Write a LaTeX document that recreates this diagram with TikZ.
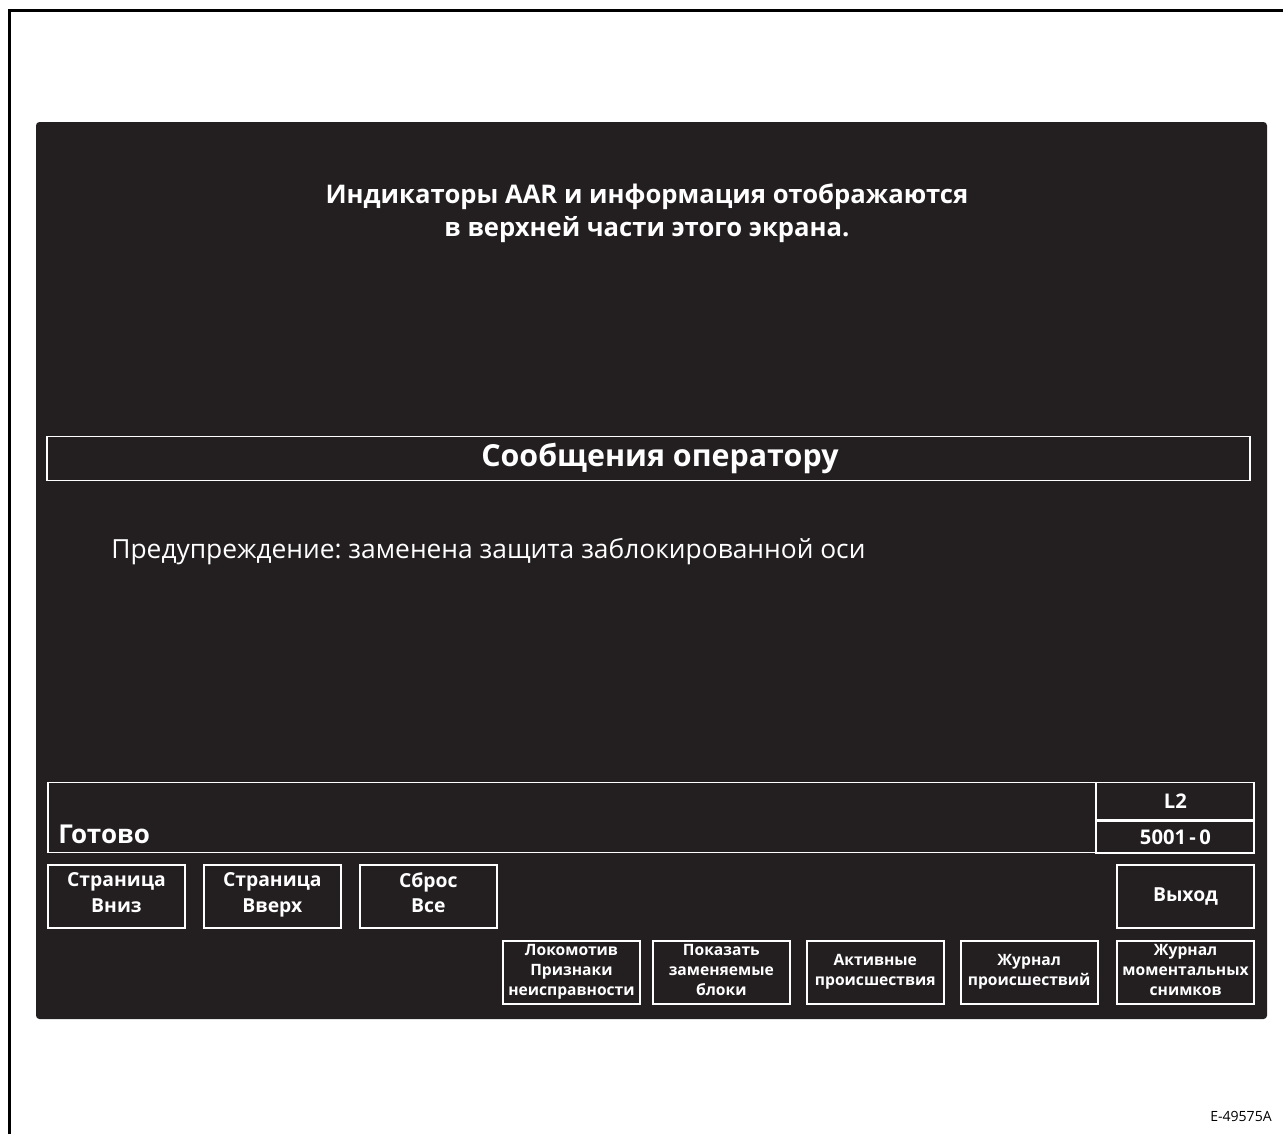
\documentclass[tikz,border=0pt]{standalone}
\usepackage{fontspec}
\setmainfont{Open Sans}
\usetikzlibrary{positioning}
\definecolor{screenbg}{HTML}{231F20}
\frenchspacing

\begin{document}
\begin{tikzpicture}[
    x=0.02cm, y=-0.02cm,
    % --- STYLES ---
    panel/.style={
        rectangle, draw=white, line width=1.1pt,
        inner sep=0pt, text=white
    },
    btn/.style={
        panel, minimum width=2.74cm, minimum height=1.26cm,
        align=center, font=\fontsize{11}{14.5}\selectfont\bfseries,
        execute at begin node=\strut, execute at end node=\strut
    },
    smallbtn/.style={
        btn, font=\fontsize{8.9}{11.4}\selectfont\bfseries
    },
    label/.style={text=white, inner sep=0pt}
]
\useasboundingbox (0,0) rectangle (1283,1134);

% ===== 1. FRAME & SCREEN =====
\draw[line width=1.7pt] (9.5,1134) -- (9.5,10) -- (1283,10);
\fill[screenbg, rounded corners=2pt] (36,122) rectangle (1267,1019);

\node[label, align=center, font=\fontsize{14.6}{18.7}\selectfont\bfseries] (title) at (647,213)
    {Индикаторы AAR и информация отображаются\\ в верхней части этого экрана.};

% ===== 2. OPERATOR MESSAGES =====
\node[panel, minimum width=24.08cm, minimum height=0.88cm,
      font=\fontsize{17.3}{20}\selectfont\bfseries] (msgbar) at (648.5,458.5)
    {\hspace*{0.46cm}Сообщения оператору};

\node[label, anchor=base west, font=\fontsize{15}{18}\selectfont] (warn) at (111,558)
    {Предупреждение: заменена защита заблокированной оси};

% ===== 3. STATUS LINE =====
\node[panel, minimum width=24.14cm, minimum height=1.4cm] (status) at (651,817.5) {};
\node[label, anchor=base west, font=\fontsize{14.8}{17}\selectfont\bfseries] (ready) at (58,843) {Готово};
\node[panel, anchor=north east, minimum width=3.16cm, minimum height=0.74cm,
      font=\fontsize{11.5}{13}\selectfont\bfseries] (level) at (status.north east) {L2};
\node[panel, anchor=north, minimum width=3.16cm, minimum height=0.64cm,
      font=\fontsize{11.5}{13}\selectfont\bfseries] (code) at (level.south) {5001\,-\,0};

% ===== 4. SOFT KEYS =====
\node[btn, anchor=north west] (pgdown) at (47,864) {Страница\\ Вниз};
\node[btn, right=0.34cm of pgdown] (pgup) {Страница\\ Вверх};
\node[btn, right=0.34cm of pgup] (reset) {Сброс\\ Все};
\node[btn, anchor=north east] (quit) at (1255,864) {Выход};

\node[smallbtn, anchor=north west] (loco) at (502,940) {Локомотив\\ Признаки\\ неисправности};
\node[smallbtn, right=0.22cm of loco] (units) {Показать\\ заменяемые\\ блоки};
\node[smallbtn, right=0.3cm of units] (active) {Активные\\ происшествия};
\node[smallbtn, right=0.3cm of active] (events) {Журнал\\ происшествий};
\node[smallbtn, anchor=north east] (snaps) at (1255,940) {Журнал\\ моментальных\\ снимков};

\node[anchor=base east, inner sep=0pt, font=\fontsize{8}{9}\selectfont] (figid) at (1272,1121) {E-49575A};

\end{tikzpicture}
\end{document}
